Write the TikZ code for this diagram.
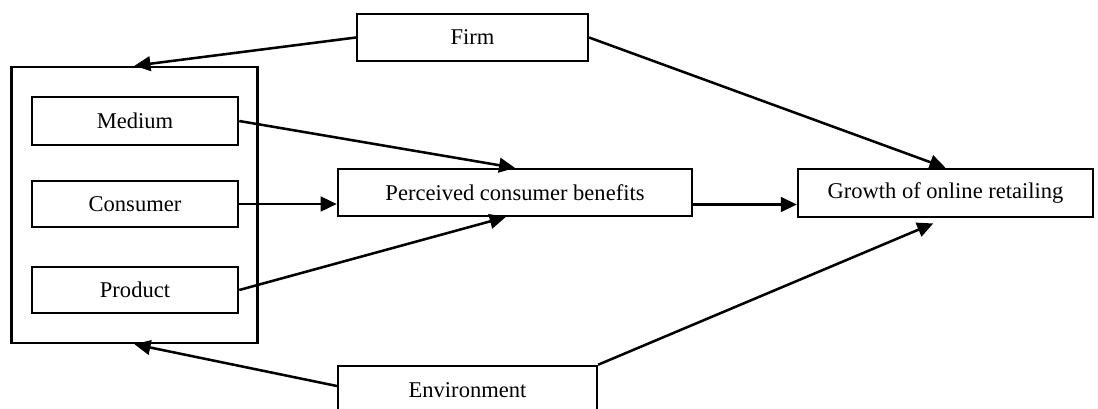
\documentclass[tikz,border=0pt]{standalone}
\usepackage{fontspec}
\setmainfont{Liberation Serif}
\usetikzlibrary{arrows.meta, positioning}
\tikzstyle{caja} = [draw=black, line width=1.9pt, rectangle, inner sep=0pt, font=\fontsize{16.9}{20}\selectfont]
\tikzstyle{grupo} = [draw=black, line width=1.9pt, rectangle, inner sep=0pt]
\tikzstyle{flecha} = [line width=1.9pt, -{Triangle[length=12pt,width=11pt]}]

\begin{document}
\begin{tikzpicture}[x=0.75pt, y=-0.75pt]
	\useasboundingbox (0,0) rectangle (1098,408);
	% bloque de la izquierda
	\node [grupo, minimum width=184.5pt, minimum height=207pt] (grupo) at (134.5,205) {};
	\node [caja, minimum width=154.5pt, minimum height=36pt] (medium) at (135,121) {Medium};
	\node [caja, minimum width=154.5pt, minimum height=34.5pt] (consumer) at (135,204) {Consumer};
	\node [caja, minimum width=154.5pt, minimum height=34.5pt] (product) at (135,290) {Product};
	% resto de cajas
	\node [caja, minimum width=173pt, minimum height=35pt] (firm) at (472.5,37.5) {Firm};
	\node [caja, minimum width=265.5pt, minimum height=35pt] (benefits) at (515,192.5) {Perceived consumer benefits};
	\node [caja, minimum width=221pt, minimum height=36pt] (growth) at (945.5,193) {Growth of online retailing};
	\node [caja, minimum width=194pt, minimum height=36pt] (environment) at (467.5,390) {Environment};
	% flechas
	\draw [flecha] (firm.west) -- (grupo.north);
	\draw [flecha] (firm.east) -- (growth.north);
	\draw [flecha] (medium.east) -- (benefits.north);
	\draw [flecha] (consumer.east) -- (consumer.east -| benefits.west);
	\draw [flecha] (product.east) -- ([xshift=-7pt]benefits.south);
	\draw [flecha] ([yshift=-9pt]benefits.east) -- ([yshift=-9pt]benefits.east -| growth.west);
	\draw [flecha] ([yshift=3pt]environment.west) -- (grupo.south);
	\draw [flecha, shorten >=10pt] (environment.north east) -- (growth.south);
\end{tikzpicture}
\end{document}
